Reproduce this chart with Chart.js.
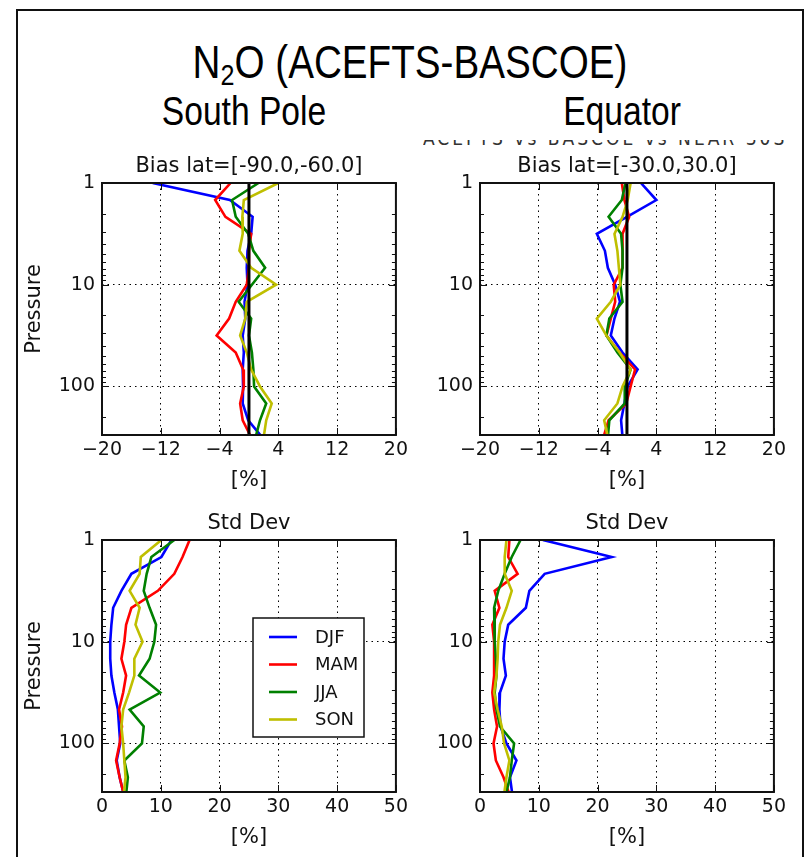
<!DOCTYPE html>
<html lang="en">
<head>
<meta charset="UTF-8">
<title>N2O (ACEFTS-BASCOE)</title>
<script src="https://cdn.jsdelivr.net/npm/chart.js"></script>
<style>
    body {
        margin: 0;
        background: #fff;
        width: 804px;
        height: 857px;
        overflow: hidden;
        position: relative;
        font-family: "DejaVu Sans", sans-serif;
    }
    .frame {
        position: absolute;
        left: 16px;
        top: 9px;
        width: 784px;
        height: 900px;
        border: 2px solid #111;
        border-bottom: none;
    }
    .head {
        position: absolute;
        font-family: "Liberation Sans", Arial, sans-serif;
        color: #000;
        white-space: nowrap;
        transform: translateX(-50%) scaleX(0.84);
        transform-origin: 50% 50%;
    }
    .wrap { position: absolute; width: 0; }
    #title { font-size: 46px; line-height: 46px; }
    #title sub { font-size: 0.65em; vertical-align: -0.22em; line-height: 0; }
    .sub { font-size: 40px; line-height: 40px; }
    .ghost {
        position: absolute;
        left: 423px;
        top: 140px;
        width: 376px;
        height: 6px;
        overflow: hidden;
    }
    .ghost span {
        position: relative;
        top: -13px;
        font-family: "DejaVu Sans Condensed", sans-serif;
        font-size: 19px;
        color: #333;
        white-space: nowrap;
        letter-spacing: 3px;
    }
    canvas { position: absolute; }
</style>
</head>
<body>
<div class="frame"></div>
<div class="wrap" style="left:410px;top:39px"><div id="title" class="head">N<sub>2</sub>O (ACEFTS-BASCOE)</div></div>
<div class="wrap" style="left:244px;top:91px"><div class="head sub">South Pole</div></div>
<div class="wrap" style="left:622px;top:91px"><div class="head sub">Equator</div></div>
<div class="ghost"><span>ACEFTS vs BASCOE vs NEAR 30S</span></div>

<canvas id="c1" width="405" height="357" style="left:7px;top:138px"></canvas>
<canvas id="c2" width="370" height="357" style="left:420px;top:138px"></canvas>
<canvas id="c3" width="405" height="357" style="left:7px;top:495px"></canvas>
<canvas id="c4" width="370" height="357" style="left:420px;top:495px"></canvas>

<script>
// pressure levels (hPa), 6 per decade
const pressure = [1, 1.47, 2.15, 3.16, 4.64, 6.81, 10, 14.7, 21.5, 31.6, 46.4, 68.1, 100, 147, 215, 316];
const seasons = ['DJF', 'MAM', 'JJA', 'SON'];
const seasonColors = ['#0000ff', '#ff0000', '#008000', '#bfbf00'];

// bias [%], lat [-90,-60]
const spBiasDJF = [-13.1, -2.6, 0.5, 0.3, -0.2, -0.3, -0.2, -0.6, -0.5, -0.85, -0.7, -0.85, -0.8, -0.85, -0.1, 1.8];
const spBiasMAM = [-2.5, -4.6, -3.2, 0.3, 0.0, 0.0, -0.3, -1.8, -2.7, -4.4, -1.8, -0.8, -0.7, -1.2, -0.85, 0.3];
const spBiasJJA = [1.3, -2.3, -1.8, -0.1, 0.6, 2.2, 0.4, -1.4, 0.3, 0.0, 0.4, 0.6, 0.7, 2.35, 1.5, 0.9];
const spBiasSON = [4.0, -0.7, -0.9, -0.85, -1.3, 0.3, 3.7, -0.3, -0.5, -1.2, -0.3, 0.3, 1.5, 3.1, 2.35, 2.0];

// bias [%], lat [-30,30]
const eqBiasDJF = [1.9, 4.0, 0.0, -4.1, -3.0, -2.6, -1.6, -0.95, -1.7, -2.2, -0.6, 1.45, 0.1, -0.35, -0.8, -0.6];
const eqBiasMAM = [-0.7, -0.35, 0.3, -0.6, -0.6, -0.6, -1.8, -1.6, -2.2, -2.8, -1.0, 1.1, 0.5, -0.1, -2.5, -3.2];
const eqBiasJJA = [-0.2, -0.7, -2.5, -0.8, -0.6, -0.6, -0.9, -0.6, -2.4, -2.8, -1.3, 0.5, -0.3, -0.3, -2.4, -2.6];
const eqBiasSON = [0.5, 0.1, -0.6, -1.7, -1.3, -1.1, -0.9, -2.2, -4.1, -2.8, -1.0, 0.5, -0.6, -1.3, -3.1, -2.6];

// std dev [%]
const spStdDJF = [11.8, 10.1, 5.0, 3.3, 1.9, 1.6, 1.4, 1.4, 1.6, 2.1, 2.7, 2.9, 3.1, 2.5, 3.0, 3.7];
const spStdMAM = [14.9, 13.7, 12.3, 9.5, 5.0, 4.1, 3.8, 3.3, 4.1, 3.6, 2.9, 3.4, 3.0, 2.4, 3.0, 3.7];
const spStdJJA = [12.3, 8.4, 7.6, 7.1, 8.1, 9.2, 8.9, 8.1, 6.3, 9.9, 4.7, 7.1, 6.8, 3.8, 4.4, 4.1];
const spStdSON = [10.1, 6.6, 6.4, 4.7, 6.4, 5.7, 6.9, 5.5, 5.5, 4.6, 3.6, 3.3, 3.6, 3.8, 4.0, 3.7];

const eqStdDJF = [10.7, 22.4, 11.0, 8.4, 7.8, 4.8, 4.2, 4.0, 4.4, 3.4, 3.3, 3.5, 4.5, 6.2, 5.1, 5.5];
const eqStdMAM = [5.0, 4.8, 6.4, 2.5, 3.3, 2.1, 2.4, 2.4, 2.4, 2.1, 2.4, 2.9, 2.3, 2.7, 4.0, 5.0];
const eqStdJJA = [6.9, 5.4, 4.2, 3.1, 2.4, 2.5, 2.5, 2.7, 2.8, 2.5, 2.8, 3.4, 5.8, 5.4, 5.1, 4.4];
const eqStdSON = [4.5, 4.2, 4.2, 5.4, 4.5, 3.4, 3.1, 3.0, 2.8, 2.4, 3.0, 3.7, 4.1, 5.0, 4.5, 4.1];

// zero reference line for bias panels
const zeroX = [0, 0];
const zeroP = [1, 300];

// axes
const pMin = 1, pMax = 300;
const pMajor = [1, 10, 100];
const pTicks = [1, 2, 3, 4, 5, 6, 7, 8, 9, 10, 20, 30, 40, 50, 60, 70, 80, 90, 100, 200, 300];
const biasTicks = [-20, -12, -4, 4, 12, 20];
const stdTicks = [0, 10, 20, 30, 40, 50];

const tickFont = { family: 'DejaVu Sans', size: 19 };
const labelFont = { family: 'DejaVu Sans', size: 21 };
const ink = '#111';

function profile(vals) {
    return pressure.map((p, i) => ({ x: vals[i], y: p }));
}

function seasonSets(series) {
    return series.map((vals, i) => ({
        label: seasons[i],
        data: profile(vals),
        borderColor: seasonColors[i],
        borderWidth: 2.6,
        order: 4 - i
    }));
}

function zeroSet() {
    return {
        label: 'zero',
        data: zeroX.map((v, i) => ({ x: v, y: zeroP[i] })),
        borderColor: '#000',
        borderWidth: 3,
        order: 0
    };
}

// matplotlib-like frame + inward tick marks
const mplAxes = {
    id: 'mplAxes',
    afterDatasetsDraw(chart) {
        const { ctx, chartArea: a, scales: { x, y } } = chart;
        ctx.save();
        ctx.strokeStyle = ink;
        ctx.lineWidth = 1;
        const seg = (x1, y1, x2, y2) => {
            ctx.beginPath();
            ctx.moveTo(x1, y1);
            ctx.lineTo(x2, y2);
            ctx.stroke();
        };
        x.ticks.forEach(t => {
            const px = Math.round(x.getPixelForValue(t.value)) + 0.5;
            seg(px, a.bottom, px, a.bottom - 7);
            seg(px, a.top, px, a.top + 7);
        });
        y.ticks.forEach(t => {
            const py = Math.round(y.getPixelForValue(t.value)) + 0.5;
            const len = pMajor.includes(t.value) ? 7 : 4;
            seg(a.left, py, a.left + len, py);
            seg(a.right, py, a.right - len, py);
        });
        ctx.lineWidth = 2;
        ctx.strokeRect(a.left, a.top, a.right - a.left, a.bottom - a.top);
        ctx.restore();
    }
};

// legend box drawn inside the plot area (lower-left Std Dev panel)
const mplLegend = {
    id: 'mplLegend',
    afterDraw(chart, args, opts) {
        if (!opts.show) return;
        const { ctx, chartArea: a } = chart;
        const bx = a.left + 151, by = a.top + 78, bw = 111, bh = 119;
        ctx.save();
        ctx.fillStyle = '#fff';
        ctx.fillRect(bx, by, bw, bh);
        ctx.strokeStyle = ink;
        ctx.lineWidth = 1.5;
        ctx.strokeRect(bx, by, bw, bh);
        ctx.font = '18px "DejaVu Sans"';
        ctx.textBaseline = 'middle';
        const sets = chart.data.datasets.filter(d => seasons.includes(d.label));
        sets.forEach((d, i) => {
            const ry = by + 19 + i * 27.5;
            ctx.strokeStyle = d.borderColor;
            ctx.lineWidth = 2.6;
            ctx.beginPath();
            ctx.moveTo(bx + 16, ry);
            ctx.lineTo(bx + 44, ry);
            ctx.stroke();
            ctx.fillStyle = ink;
            ctx.fillText(d.label, bx + 62, ry + 1);
        });
        ctx.restore();
    }
};

function makePanel(id, opt) {
    const xTicks = opt.bias ? biasTicks : stdTicks;
    const datasets = seasonSets(opt.series);
    if (opt.bias) datasets.push(zeroSet());

    return new Chart(document.getElementById(id), {
        type: 'scatter',
        data: { datasets: datasets },
        options: {
            responsive: false,
            animation: false,
            showLine: true,
            layout: { padding: { left: 0, right: 15, top: 0, bottom: 0 } },
            elements: { point: { radius: 0, hoverRadius: 0 } },
            plugins: {
                legend: { display: false },
                tooltip: { enabled: false },
                title: {
                    display: true,
                    fullSize: false,
                    text: opt.title,
                    color: ink,
                    font: { family: 'DejaVu Sans', size: 21, weight: 'normal' },
                    padding: { top: 16, bottom: 3.8 }
                },
                mplLegend: { show: !!opt.legend }
            },
            scales: {
                x: {
                    type: 'linear',
                    min: xTicks[0],
                    max: xTicks[xTicks.length - 1],
                    afterBuildTicks: s => { s.ticks = xTicks.map(v => ({ value: v })); },
                    afterFit: s => { s.height = 60; },
                    ticks: {
                        autoSkip: false,
                        maxRotation: 0,
                        padding: 4,
                        color: ink,
                        font: tickFont,
                        callback: v => v < 0 ? '\u2212' + Math.abs(v) : String(v)
                    },
                    grid: {
                        drawTicks: false,
                        lineWidth: 1,
                        color: c => (c.tick && c.tick.value !== xTicks[0] && c.tick.value !== xTicks[xTicks.length - 1]) ? '#000' : 'rgba(0,0,0,0)'
                    },
                    border: { display: false, dash: [1.5, 4] },
                    title: { display: true, text: '[%]', color: ink, font: labelFont, padding: { top: 0, bottom: 2 } }
                },
                y: {
                    type: 'logarithmic',
                    reverse: true,
                    min: pMin,
                    max: pMax,
                    afterBuildTicks: s => { s.ticks = pTicks.map(v => ({ value: v, major: pMajor.includes(v) })); },
                    afterFit: s => { s.width = opt.yWidth; },
                    ticks: {
                        autoSkip: false,
                        padding: 7,
                        color: ink,
                        font: tickFont,
                        callback: v => pMajor.includes(v) ? String(v) : ''
                    },
                    grid: {
                        drawTicks: false,
                        lineWidth: 1,
                        color: c => (c.tick && (c.tick.value === 10 || c.tick.value === 100)) ? '#000' : 'rgba(0,0,0,0)'
                    },
                    border: { display: false, dash: [1.5, 4] },
                    title: { display: opt.yTitle, text: 'Pressure', color: ink, font: labelFont, padding: { top: 15, bottom: 0 } }
                }
            }
        },
        plugins: [mplAxes, mplLegend]
    });
}

makePanel('c1', { title: 'Bias lat=[-90.0,-60.0]', bias: true, yWidth: 95, yTitle: true,
    series: [spBiasDJF, spBiasMAM, spBiasJJA, spBiasSON] });
makePanel('c2', { title: 'Bias lat=[-30.0,30.0]', bias: true, yWidth: 60, yTitle: false,
    series: [eqBiasDJF, eqBiasMAM, eqBiasJJA, eqBiasSON] });
makePanel('c3', { title: 'Std Dev', bias: false, yWidth: 95, yTitle: true, legend: true,
    series: [spStdDJF, spStdMAM, spStdJJA, spStdSON] });
makePanel('c4', { title: 'Std Dev', bias: false, yWidth: 60, yTitle: false,
    series: [eqStdDJF, eqStdMAM, eqStdJJA, eqStdSON] });
</script>
</body>
</html>
